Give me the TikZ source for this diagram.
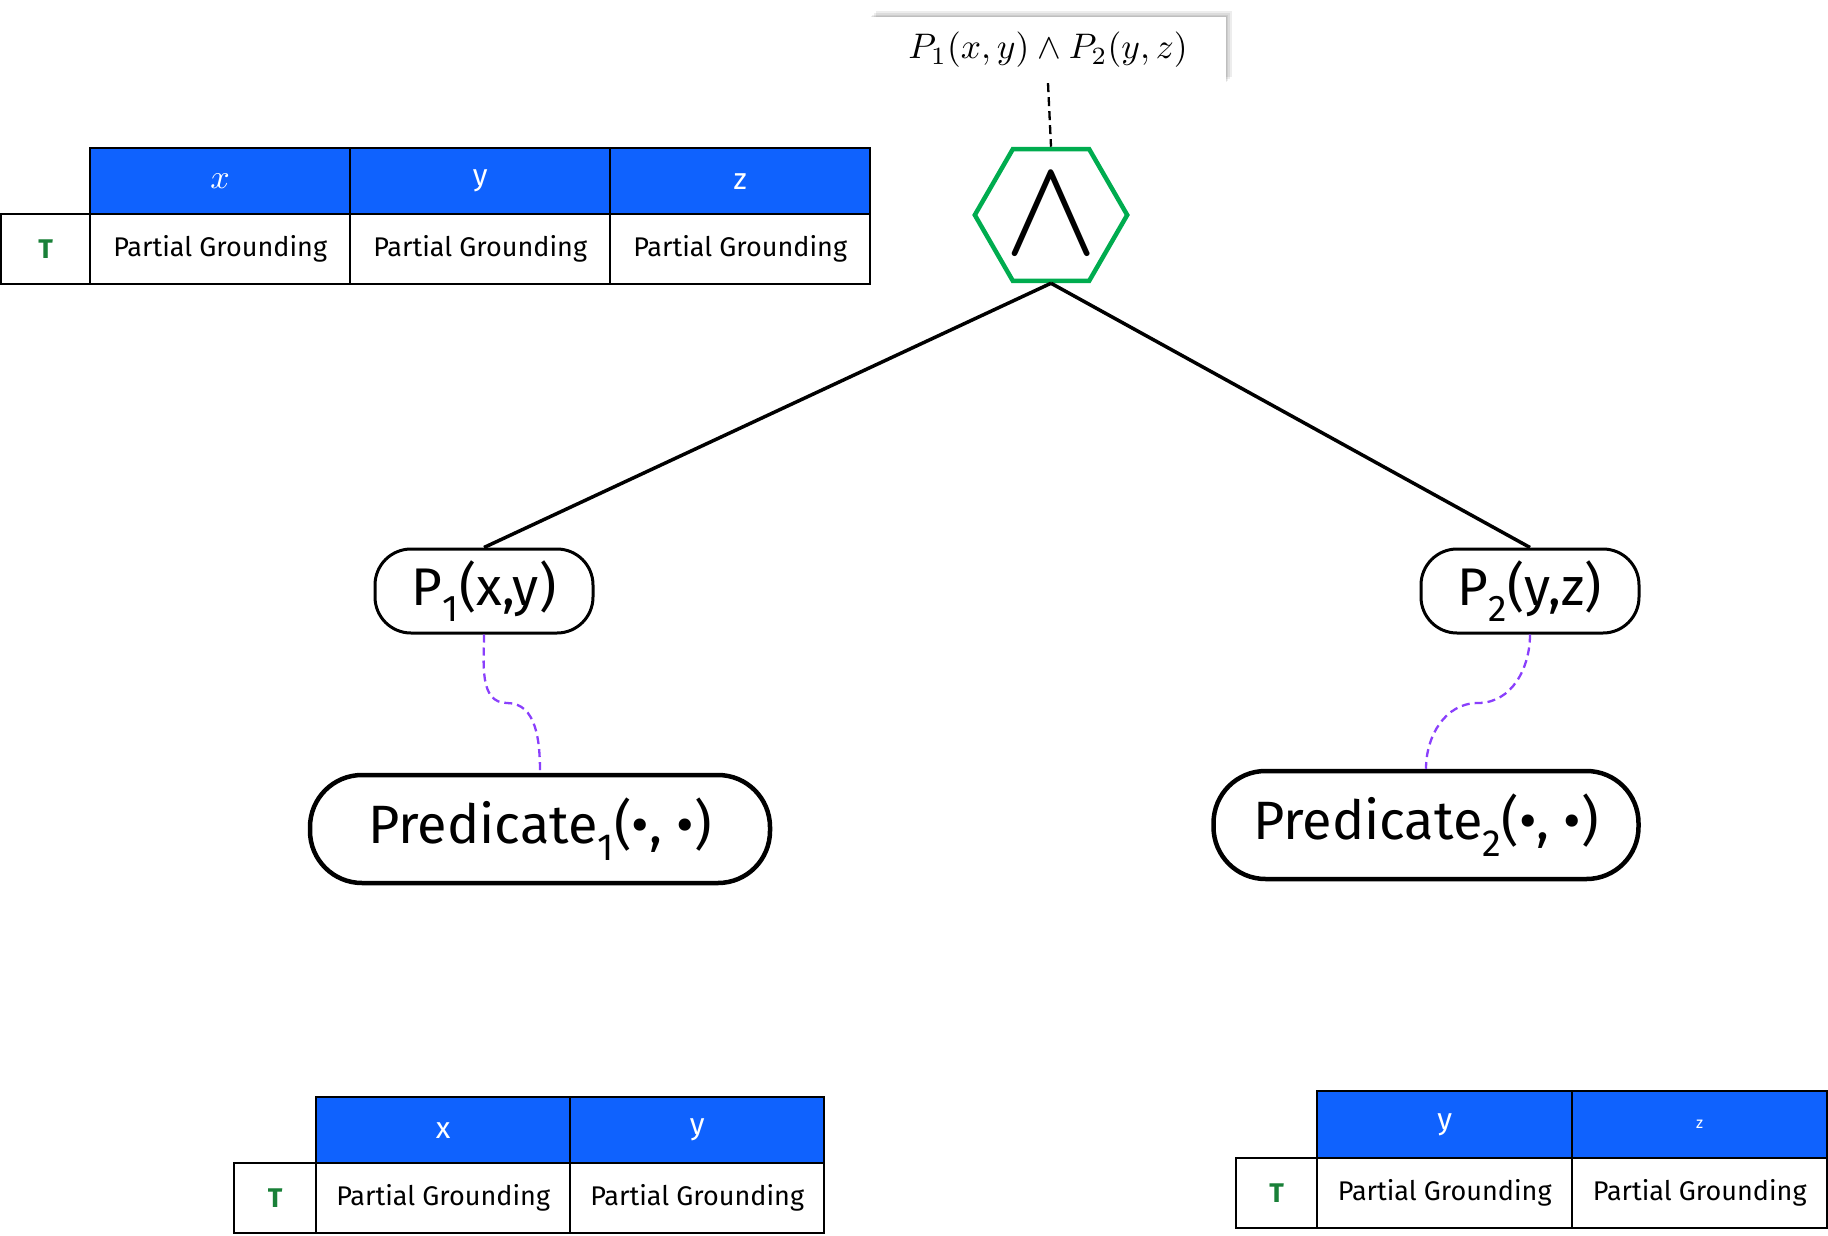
\documentclass[tikz,border=0pt]{standalone}
\usepackage{graphicx}
\usepackage{fontspec}
\setmainfont{Fira Sans}
\usetikzlibrary{shapes.geometric,shadows}
\definecolor{ibmblue}{HTML}{0F62FE}
\definecolor{ibmgreen}{HTML}{198038}
\definecolor{andgreen}{HTML}{00AC4F}
\definecolor{linkpurple}{HTML}{8A3FFC}
\begin{document}
\begin{tikzpicture}[x=1pt,y=-1pt,every node/.style={inner sep=0pt},
cell/.style={draw,line width=2.3pt,anchor=north west,minimum height=70pt,font=\fontsize{27}{30}\selectfont},
head/.style={cell,fill=ibmblue,text=white,minimum height=66pt,font=\fontsize{30}{32}\selectfont},
truth/.style={cell,text=ibmgreen,font=\fontsize{27}{30}\selectfont\bfseries},
atom/.style={draw,line width=3pt,rounded corners=36pt,minimum width=218pt,minimum height=84pt,font=\fontsize{53}{60}\selectfont},
pred/.style={draw,line width=4.5pt,rounded corners=52pt,minimum height=108pt,font=\fontsize{54}{64}\selectfont},
link/.style={draw=linkpurple,line width=2.3pt,dash pattern=on 8pt off 5pt},
glow/.style={general shadow={shadow xshift=#1,shadow yshift=#1,opacity=.07,fill=black}}]
\useasboundingbox (0,0) rectangle (1828,1236);
% formula and its root
\node[fill=white,glow=6pt,glow=4pt,glow=2pt,glow=1pt,
  minimum width=356pt,minimum height=66pt] (formula) at (1048,50) {\scalebox{3.55}{$P_1(x,y)\wedge P_2(y,z)$}};
\node[regular polygon,regular polygon sides=6,draw=andgreen,line width=4.5pt,minimum size=150pt] (and) at (1051,215) {\scalebox{14}{$\wedge$}};
\draw[line width=2.3pt,dash pattern=on 9pt off 5pt] (formula.south) -- (and.north);
% atoms
\node[atom] (p1) at (484,591) {P\textsubscript{1}(x,y)};
\node[atom] (p2) at (1530,591) {P\textsubscript{2}(y,z)};
\draw[line width=3.5pt] (and.south) -- (p1.north);
\draw[line width=3.5pt] (and.south) -- (p2.north);
% predicates
\node[pred,minimum width=460pt] (pred1) at (540,829) {Predicate\textsubscript{1}(•, •)};
\node[pred,minimum width=425pt] (pred2) at (1426,825) {Predicate\textsubscript{2}(•, •)};
\coordinate (bend1) at (507,703);
\coordinate (bend2) at (1478,703);
\draw[link] (p1.south) to[out=-90,in=180] (bend1) to[out=0,in=90] (pred1.north);
\draw[link] (p2.south) to[out=-90,in=0] (bend2) to[out=180,in=90] (pred2.north);
% table of the formula
\node[head,minimum width=260pt] (tx) at (89,147) {\normalsize\scalebox{3.4}{$x$}};
\node[head,minimum width=260pt] (ty) at (349,147) {y};
\node[head,minimum width=260pt] (tz) at (609,147) {z};
\node[truth,minimum width=89pt] (tT) at (0,213) {T};
\node[cell,minimum width=260pt] (tgx) at (89,213) {Partial Grounding};
\node[cell,minimum width=260pt] (tgy) at (349,213) {Partial Grounding};
\node[cell,minimum width=260pt] (tgz) at (609,213) {Partial Grounding};
% table of P1
\node[head,minimum width=254pt] (lx) at (315,1096) {x};
\node[head,minimum width=254pt] (ly) at (569,1096) {y};
\node[truth,minimum width=82pt] (lT) at (233,1162) {T};
\node[cell,minimum width=254pt] (lgx) at (315,1162) {Partial Grounding};
\node[cell,minimum width=254pt] (lgy) at (569,1162) {Partial Grounding};
% table of P2
\node[head,minimum width=255pt,minimum height=67pt] (ry) at (1316,1090) {y};
\node[head,minimum width=255pt,minimum height=67pt,font=\fontsize{16}{18}\selectfont] (rz) at (1571,1090) {z};
\node[truth,minimum width=81pt] (rT) at (1235,1157) {T};
\node[cell,minimum width=255pt] (rgy) at (1316,1157) {Partial Grounding};
\node[cell,minimum width=255pt] (rgz) at (1571,1157) {Partial Grounding};
\end{tikzpicture}
\end{document}
